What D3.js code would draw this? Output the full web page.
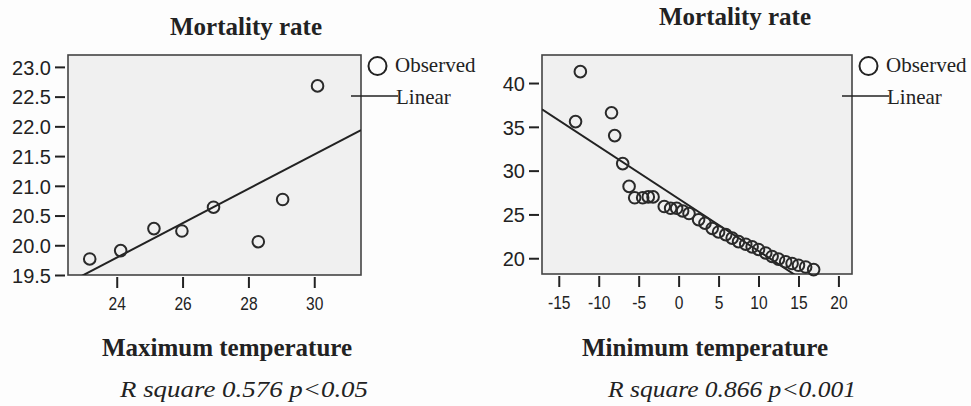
<!DOCTYPE html>
<html>
<head>
<meta charset="UTF-8">
<script src="https://cdn.jsdelivr.net/npm/d3@7"></script>
<style>
  body { margin: 0; background: #fdfdfd; }
  svg { display: block; }
  .tick-y, .tick-x { font-family: Arial, "Liberation Sans", sans-serif; fill: #222; }
  .serif { font-family: "Times New Roman", "Liberation Serif", Times, serif; fill: #222; }
</style>
</head>
<body>
<svg id="chart" width="971" height="406"></svg>
<script>
  // --- data ---
  var maxTemp = [23.18, 24.12, 25.13, 25.98, 26.94, 28.30, 29.04, 30.10];
  var maxMortality = [19.77, 19.91, 20.28, 20.24, 20.64, 20.06, 20.77, 22.68];

  var minTemp = [-12.3, -12.9, -8.4, -8.0, -7.0, -6.2, -5.5, -4.5, -3.8, -3.2,
    -1.8, -1.0, -0.25, 0.5, 1.3, 2.5, 3.3, 4.2, 5.0, 5.9, 6.7, 7.5, 8.4, 9.2,
    10.0, 10.9, 11.7, 12.5, 13.4, 14.2, 15.0, 15.9, 16.9];
  var minMortality = [41.3, 35.6, 36.6, 34.0, 30.8, 28.2, 26.9, 26.9, 27.0, 27.0,
    25.9, 25.7, 25.7, 25.4, 25.1, 24.4, 24.0, 23.4, 23.0, 22.7, 22.3, 21.9, 21.6, 21.3,
    21.0, 20.6, 20.2, 19.9, 19.6, 19.4, 19.2, 19.0, 18.7];

  var maxTicksX = [24, 26, 28, 30];
  var maxTicksY = [19.5, 20.0, 20.5, 21.0, 21.5, 22.0, 22.5, 23.0];
  var minTicksX = [-15, -10, -5, 0, 5, 10, 15, 20];
  var minTicksY = [20, 25, 30, 35, 40];

  var legendLabels = ["Observed", "Linear"];

  var svg = d3.select("#chart");

  // least squares fit
  function linearFit(xs, ys) {
    var mx = d3.mean(xs), my = d3.mean(ys);
    var sxy = d3.sum(xs, function (x, i) { return (x - mx) * (ys[i] - my); });
    var sxx = d3.sum(xs, function (x) { return (x - mx) * (x - mx); });
    var b = sxy / sxx;
    return { slope: b, intercept: my - b * mx };
  }

  function drawPanel(p) {
    var g = svg.append("g");
    var x = d3.scaleLinear().domain(p.xDomain).range([p.left, p.right]);
    var y = d3.scaleLinear().domain(p.yDomain).range([p.bottom, p.top]);

    var clipId = "clip" + p.id;
    svg.append("clipPath").attr("id", clipId)
      .append("rect")
      .attr("x", p.left).attr("y", p.top)
      .attr("width", p.right - p.left).attr("height", p.bottom - p.top);

    // plot area
    g.append("rect")
      .attr("x", p.left).attr("y", p.top)
      .attr("width", p.right - p.left).attr("height", p.bottom - p.top)
      .style("fill", "#f0f0f0")
      .style("stroke", "#444")
      .style("stroke-width", 1.6);

    // y axis (ticks sit a little away from the box)
    var yAxis = d3.axisLeft(y).tickValues(p.yTicks).tickFormat(p.yFormat)
      .tickSize(10).tickPadding(4);
    g.append("g")
      .attr("transform", "translate(" + (p.left - 3) + ",0)")
      .call(yAxis)
      .call(function (a) {
        a.select(".domain").remove();
        a.selectAll("line").style("stroke", "#222").style("stroke-width", 2);
        a.selectAll("text").attr("class", "tick-y").style("font-size", "20px")
          .attr("dy", "0.36em");
      });

    // x axis
    var xAxis = d3.axisBottom(x).tickValues(p.xTicks).tickFormat(function (d) { return String(d); })
      .tickSize(11).tickPadding(9);
    g.append("g")
      .attr("transform", "translate(0," + (p.bottom + 2) + ")")
      .call(xAxis)
      .call(function (a) {
        a.select(".domain").remove();
        a.selectAll("line").style("stroke", "#222").style("stroke-width", 2);
        a.selectAll("text").attr("class", "tick-x").style("font-size", "19px")
          .attr("transform", "scale(0.82,1)");
      });

    // fit line
    var fit = linearFit(p.xs, p.ys);
    g.append("line")
      .attr("clip-path", "url(#" + clipId + ")")
      .attr("x1", x(p.xDomain[0])).attr("y1", y(fit.intercept + fit.slope * p.xDomain[0]))
      .attr("x2", x(p.xDomain[1])).attr("y2", y(fit.intercept + fit.slope * p.xDomain[1]))
      .style("stroke", "#222").style("stroke-width", 2);

    // observed points
    g.append("g").selectAll("circle")
      .data(p.xs)
      .enter()
      .append("circle")
      .attr("cx", function (d) { return x(d); })
      .attr("cy", function (d, i) { return y(p.ys[i]); })
      .attr("r", 5.8)
      .style("fill", "none")
      .style("stroke", "#2a2a2a")
      .style("stroke-width", 2);

    // legend
    var lx = p.right;
    g.append("circle")
      .attr("cx", lx + 16.5).attr("cy", 66).attr("r", 9)
      .style("fill", "none").style("stroke", "#222").style("stroke-width", 2);
    g.append("text").attr("class", "serif")
      .attr("x", lx + 34).attr("y", 72)
      .style("font-size", "21px")
      .text(legendLabels[0]);
    g.append("line")
      .attr("x1", lx - 10).attr("x2", lx + 37).attr("y1", 96).attr("y2", 96)
      .style("stroke", "#222").style("stroke-width", 1.6);
    g.append("text").attr("class", "serif")
      .attr("x", lx + 35).attr("y", 104)
      .style("font-size", "21px")
      .text(legendLabels[1]);

    // titles
    g.append("text").attr("class", "serif")
      .attr("x", p.titleX).attr("y", p.titleY)
      .attr("text-anchor", "middle")
      .style("font-size", "25px").style("font-weight", "bold")
      .text("Mortality rate");

    g.append("text").attr("class", "serif")
      .attr("x", p.xTitleX).attr("y", 356)
      .attr("text-anchor", "middle")
      .style("font-size", "25px").style("font-weight", "bold")
      .text(p.xTitle);

    g.append("text").attr("class", "serif")
      .attr("x", p.noteX).attr("y", 397)
      .attr("text-anchor", "middle")
      .attr("textLength", 248).attr("lengthAdjust", "spacingAndGlyphs")
      .style("font-size", "23px").style("font-style", "italic")
      .text(p.note);
  }

  drawPanel({
    id: 1, left: 68, right: 361, top: 55, bottom: 275,
    xDomain: [22.52, 31.42], yDomain: [19.5, 23.2],
    xTicks: maxTicksX, yTicks: maxTicksY, yFormat: d3.format(".1f"),
    xs: maxTemp, ys: maxMortality,
    titleX: 246, titleY: 35, xTitleX: 227, xTitle: "Maximum temperature",
    noteX: 244, note: "R square 0.576 p<0.05"
  });

  drawPanel({
    id: 2, left: 542, right: 852, top: 55, bottom: 274,
    xDomain: [-17.1, 21.7], yDomain: [18.2, 43.2],
    xTicks: minTicksX, yTicks: minTicksY, yFormat: d3.format("d"),
    xs: minTemp, ys: minMortality,
    titleX: 735, titleY: 25, xTitleX: 705, xTitle: "Minimum temperature",
    noteX: 732, note: "R square 0.866 p<0.001"
  });
</script>
</body>
</html>
